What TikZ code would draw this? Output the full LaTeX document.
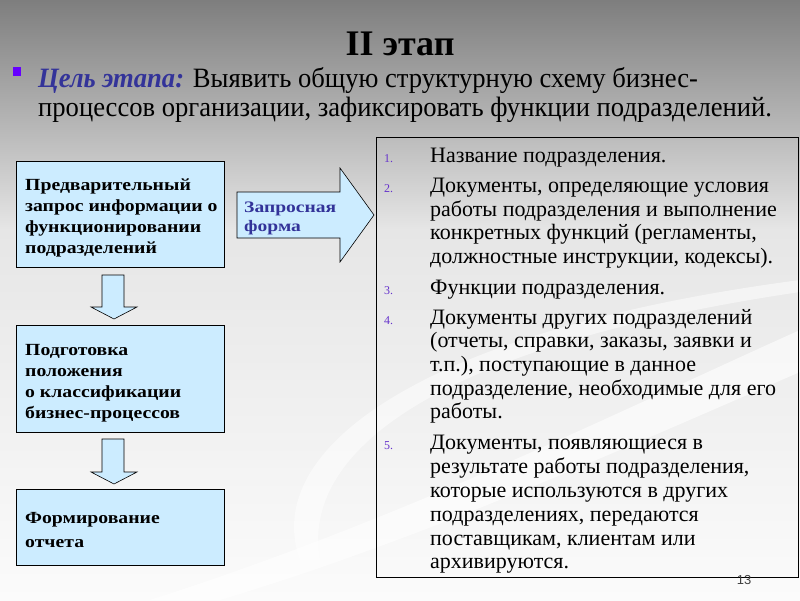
\documentclass[tikz,border=0pt]{standalone}
\usepackage{fontspec}
\setmainfont{Liberation Serif}
\setsansfont{Liberation Sans}
\newfontfamily\subfont[FakeStretch=0.95]{Liberation Serif}
\newfontfamily\boxfont[FakeStretch=1.16]{Liberation Serif}
\newfontfamily\arrowfont[FakeStretch=1.22]{Liberation Serif}
\usetikzlibrary{calc}
\definecolor{boxblue}{HTML}{CCECFF}
\definecolor{navy}{HTML}{333399}
\definecolor{bulletc}{HTML}{6600FF}
\definecolor{numc}{HTML}{6633CC}
\definecolor{bgtop}{HTML}{7E7E7E}
\definecolor{bgmid}{HTML}{E6E6E6}
\definecolor{bgbot}{HTML}{FBFBFB}
\tikzset{
  stagebox/.style={draw=black, line width=0.8pt, fill=boxblue},
  boxtext/.style={anchor=base west, inner sep=0pt, font=\boxfont\fontsize{17}{20}\selectfont\bfseries},
  listnum/.style={anchor=base west, inner sep=0pt, text=numc, font=\fontsize{12}{14}\selectfont},
  listtext/.style={anchor=base west, inner sep=0pt, font=\fontsize{22}{24}\selectfont},
  downarrow/.style={draw=black, line width=0.6pt, fill=boxblue},
}
\begin{document}
\begin{tikzpicture}[x=1pt,y=-1pt]
\useasboundingbox (0,0) rectangle (800,600);
% background
\shade[top color=bgtop, bottom color=bgmid] (0,0) rectangle (800,230);
\shade[top color=bgmid, bottom color=bgbot] (0,230) rectangle (800,600);
% faint swoosh
\fill[white, opacity=0.6] (150,600) .. controls (400,520) and (600,420) .. (800,330)
  -- (800,372) .. controls (620,450) and (420,540) .. (220,600) -- cycle;
\fill[white, opacity=0.5] (300,560) .. controls (260,450) and (420,330) .. (800,280)
  -- (800,292) .. controls (440,345) and (300,450) .. (320,560) -- cycle;
% title
\node[anchor=base, inner sep=0pt, font=\fontsize{36}{40}\selectfont\bfseries] (title) at (400,55) {II этап};
% bullet
\fill[bulletc] (13,67) rectangle (21,76);
\node[anchor=base west, inner sep=0pt, font=\subfont\fontsize{28}{32}\selectfont] (goal1) at (38,87)
  {\textcolor{navy}{\bfseries\itshape Цель этапа:} Выявить общую структурную схему бизнес-};
\node[anchor=base west, inner sep=0pt, font=\subfont\fontsize{28}{32}\selectfont] (goal2) at (38,116)
  {процессов организации, зафиксировать функции подразделений.};
% left boxes
\path[stagebox] (16,161) rectangle (224,267);
\node[boxtext] (b1a) at (25,190) {Предварительный};
\node[boxtext] (b1b) at (25,211) {запрос информации о};
\node[boxtext] (b1c) at (25,232) {функционировании};
\node[boxtext] (b1d) at (25,253) {подразделений};
\path[stagebox] (16,325) rectangle (224,432);
\node[boxtext] (b2a) at (25,355) {Подготовка};
\node[boxtext] (b2b) at (25,376) {положения};
\node[boxtext] (b2c) at (25,397) {о классификации};
\node[boxtext] (b2d) at (25,418) {бизнес-процессов};
\path[stagebox] (16,489) rectangle (224,565);
\node[boxtext] (b3a) at (25,523) {Формирование};
\node[boxtext] (b3b) at (25,547) {отчета};
% down arrows
\path[downarrow] (102,275) -- (124,275) -- (124,307) -- (137,307) -- (114,319) -- (91,307) -- (102,307) -- cycle;
\path[downarrow] (102,439) -- (124,439) -- (124,472) -- (137,472) -- (114,484) -- (91,472) -- (102,472) -- cycle;
% right arrow
\path[downarrow] (237,192) -- (340,192) -- (340,168) -- (374,215) -- (340,262) -- (340,238) -- (237,238) -- cycle;
\node[anchor=base west, inner sep=0pt, text=navy, font=\arrowfont\fontsize{16}{18}\selectfont\bfseries] (f1) at (244,212) {Запросная};
\node[anchor=base west, inner sep=0pt, text=navy, font=\arrowfont\fontsize{16}{18}\selectfont\bfseries] (f2) at (244,231) {форма};
% right list box
\draw[black, line width=0.8pt] (376,137) rectangle (798,577);
\node[listnum] (n1) at (384,162) {1.};
\node[listtext] (t1a) at (430,162) {Название подразделения.};
\node[listnum] (n2) at (384,192) {2.};
\node[listtext] (t2a) at (430,192) {Документы, определяющие условия};
\node[listtext] (t2b) at (430,216) {работы подразделения и выполнение};
\node[listtext] (t2c) at (430,239) {конкретных функций (регламенты,};
\node[listtext] (t2d) at (430,263) {должностные инструкции, кодексы).};
\node[listnum] (n3) at (384,294) {3.};
\node[listtext] (t3a) at (430,294) {Функции подразделения.};
\node[listnum] (n4) at (384,324) {4.};
\node[listtext] (t4a) at (430,324) {Документы других подразделений};
\node[listtext] (t4b) at (430,347) {(отчеты, справки, заказы, заявки и};
\node[listtext] (t4c) at (430,371) {т.п.), поступающие в данное};
\node[listtext] (t4d) at (430,395) {подразделение, необходимые для его};
\node[listtext] (t4e) at (430,418) {работы.};
\node[listnum] (n5) at (384,449) {5.};
\node[listtext] (t5a) at (430,449) {Документы, появляющиеся в};
\node[listtext] (t5b) at (430,473) {результате работы подразделения,};
\node[listtext] (t5c) at (430,497) {которые используются в других};
\node[listtext] (t5d) at (430,521) {подразделениях, передаются};
\node[listtext] (t5e) at (430,545) {поставщикам, клиентам или};
\node[listtext] (t5f) at (430,568) {архивируются.};
% page number
\node[anchor=base, inner sep=0pt, text=black!75, font=\fontsize{13}{15}\selectfont\sffamily] (pg) at (744,584) {13};
\end{tikzpicture}
\end{document}
